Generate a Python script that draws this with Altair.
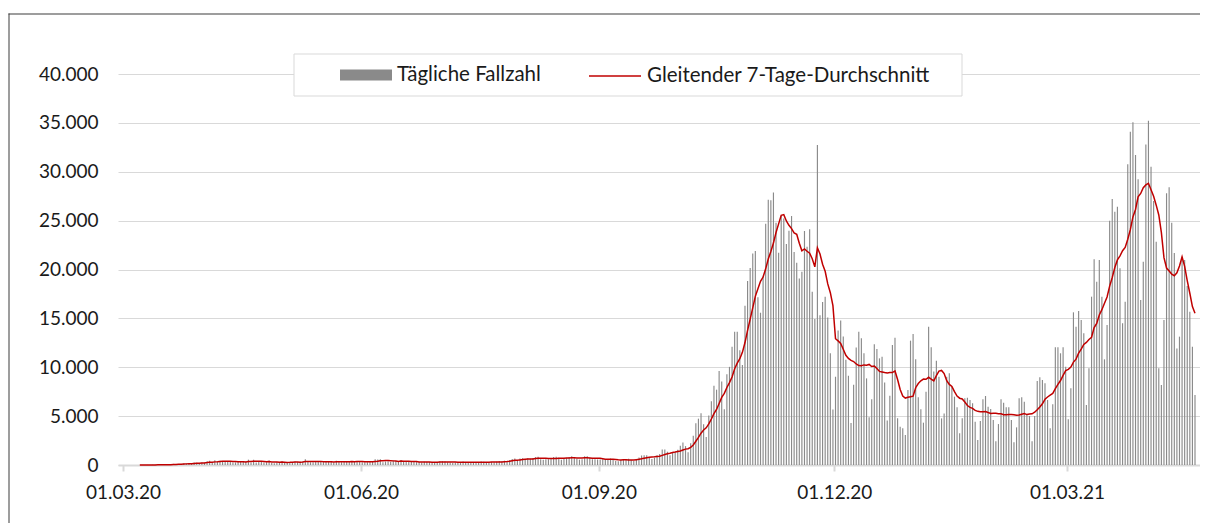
import altair as alt
import pandas as pd

# ---------------- data (daily reported cases, 01.03.2020 - 19.04.2021) ----------------
mar20 = [0, 0, 0, 1, 0, 4, 0, 6, 6, 5, 9, 20, 17, 36, 14, 52, 27, 49, 68, 111,
         111, 98, 115, 152, 150, 170, 168, 249, 224, 193, 256]
apr20 = [243, 392, 437, 244, 475, 311, 435, 370, 380, 401, 318, 260, 268, 380, 336,
         306, 363, 545, 263, 545, 263, 313, 381, 263, 285, 460, 195, 188, 292, 306]
may20 = [381, 230, 276, 218, 307, 356, 307, 330, 349, 595, 345, 285, 279, 388, 321,
         378, 290, 300, 339, 325, 245, 443, 312, 284, 300, 395, 353, 356, 324, 416, 379]
jun20 = [292, 292, 282, 352, 400, 576, 575, 599, 282, 359, 386, 314, 440, 407, 375,
         506, 314, 308, 371, 301, 318, 300, 308, 246, 331, 305, 302, 263, 213, 301]
jul20 = [371, 371, 356, 280, 243, 193, 262, 299, 290, 358, 301, 299, 230, 253, 291,
         260, 358, 334, 286, 252, 305, 281, 337, 418, 358, 443, 337, 512, 615, 657, 443]
aug20 = [658, 680, 512, 680, 640, 726, 809, 843, 599, 548, 599, 587, 639, 811, 832,
         737, 548, 640, 722, 809, 903, 759, 632, 548, 581, 887, 887, 729, 600, 594, 570]
sep20 = [555, 597, 550, 601, 661, 551, 410, 376, 503, 600, 585, 635, 500, 397, 600,
         757, 974, 1002, 1002, 815, 607, 744, 1002, 1136, 1587, 1584, 1350, 1000, 1306, 1326]
oct20 = [1552, 1967, 2292, 1934, 1306, 2236, 3003, 4280, 4739, 5300, 4178, 2855, 5068,
         6526, 8099, 7705, 9622, 8536, 5709, 9291, 10040, 12107, 13632, 13628, 11742,
         10241, 16300, 18820, 20156, 21629, 21897]
nov20 = [17171, 15578, 19364, 24692, 27143, 27086, 27875, 24785, 21713, 25484, 25230,
         22610, 23970, 25470, 21790, 20700, 19080, 19770, 23940, 22330, 24110, 17730,
         14930, 32730, 15310, 16670, 17220, 15100, 11420, 5690]
dec20 = [9030, 13760, 14780, 13150, 10760, 9130, 4290, 8210, 12030, 13640, 12960, 11420,
         8860, 4880, 6720, 12350, 11870, 10910, 11080, 8450, 4540, 7090, 12280, 13030,
         4780, 3920, 3750, 3070, 7670, 12720, 13400]
jan21 = [10810, 6920, 5700, 4330, 7500, 14150, 12040, 9560, 10670, 9040, 4770, 5280,
         9040, 9380, 8010, 6990, 5900, 3240, 4770, 6820, 6890, 6650, 6310, 4430, 2560,
         4500, 6720, 7060, 5970, 5730, 4600]
feb21 = [2420, 4190, 6720, 6380, 5900, 5900, 4600, 2320, 3850, 6820, 6920, 6480, 5120,
         5010, 2420, 5010, 8590, 8970, 8700, 8360, 6650, 3750, 6210, 12040, 12040, 11430,
         12040, 10060]
mar21 = [4670, 7840, 15620, 14150, 15750, 14830, 13470, 6140, 9890, 17220, 21040, 18750,
         20970, 17220, 10810, 14320, 24990, 27210, 25910, 26420, 20120, 14490, 16710,
         30760, 34100, 35060, 31710, 29230, 16880, 20800, 32800]
apr21 = [35220, 30520, 27000, 22840, 9890, 8180, 14830, 27790, 28410, 24790, 21690,
         11930, 13130, 21300, 20970, 18300, 15680, 12100, 7160]

series_names = ["Tägliche Fallzahl", "Gleitender 7-Tage-Durchschnitt"]
tick_days = [0, 92, 184, 275, 365]
tick_labels = ["01.03.20", "01.06.20", "01.09.20", "01.12.20", "01.03.21"]
y_ticks = [0, 5000, 10000, 15000, 20000, 25000, 30000, 35000, 40000]

daily = mar20 + apr20 + may20 + jun20 + jul20 + aug20 + sep20 + oct20 + nov20 + dec20 \
    + jan21 + feb21 + mar21 + apr21
n_days = len(daily)

df = pd.DataFrame({"day": list(range(n_days)), "cases": daily})
df["xc"] = df["day"] + 0.5
df["s1"] = series_names[0]
df["s2"] = series_names[1]

# ---------------- styling ----------------
FONT = "Lato"
TXT = "#1a1a1a"
BAR = "#8a8a8a"
RED = "#c00000"
GRID = "#d9d9d9"
FRAME = "#3c3c3c"
AX_FS = 19
LEG_FS = 20.5
PLOT_W = 1082

x_label_expr = " : ".join(
    f"datum.value == {d} ? '{l}'" for d, l in zip(tick_days, tick_labels)) + " : ''"

x_scale = alt.Scale(domain=[0, n_days - 0.5], nice=False, zero=False)
y_scale = alt.Scale(domain=[0, 40000], nice=False)

x_axis = alt.Axis(values=tick_days, labelExpr=x_label_expr, title=None, grid=False,
                  domain=True, domainColor=GRID, domainWidth=2,
                  ticks=True, tickColor=GRID, tickSize=6, tickWidth=2,
                  labelPadding=12, labelFont=FONT, labelFontSize=AX_FS, labelColor=TXT,
                  labelFlush=False, labelOverlap=False)
y_axis = alt.Axis(values=y_ticks, title=None, grid=True, gridColor=GRID, gridWidth=1,
                  domain=False, ticks=False, labelPadding=20,
                  labelExpr="replace(format(datum.value, ','), ',', '.')",
                  labelFont=FONT, labelFontSize=AX_FS, labelColor=TXT)

base = alt.Chart(df)

bars = base.mark_bar(size=1.15).encode(
    x=alt.X("xc:Q", scale=x_scale, axis=x_axis),
    y=alt.Y("cases:Q", scale=y_scale, axis=y_axis),
    fill=alt.Fill("s1:N", scale=alt.Scale(domain=[series_names[0]], range=[BAR]),
                  legend=alt.Legend(orient="none", legendX=222, legendY=-25, title=None,
                                    symbolType="M-1,-0.21H1V0.21H-1Z", symbolSize=2704,
                                    symbolStrokeWidth=0, labelFont=FONT,
                                    labelFontSize=LEG_FS, labelColor=TXT, labelOffset=5,
                                    labelLimit=600, padding=0)),
)

line = base.transform_window(
    avg="mean(cases)", frame=[-6, 0], sort=[alt.SortField("day")]
).transform_filter("datum.day >= 6").mark_line(strokeWidth=1.5).encode(
    x=alt.X("xc:Q", scale=x_scale, axis=x_axis),
    y=alt.Y("avg:Q", scale=y_scale, axis=y_axis),
    stroke=alt.Stroke("s2:N", scale=alt.Scale(domain=[series_names[1]], range=[RED]),
                      legend=alt.Legend(orient="none", legendX=470, legendY=-25, title=None,
                                        symbolType="stroke", symbolSize=2704,
                                        symbolStrokeWidth=1.5, labelFont=FONT,
                                        labelFontSize=LEG_FS, labelColor=TXT,
                                        labelOffset=5, labelLimit=600, padding=0)),
)

# outer frame of the picture (only its left and top edges fall inside the window)
one = pd.DataFrame({"k": [0]})
frame_left = alt.Chart(one).mark_rect(fill=FRAME, strokeWidth=0).encode(
    x=alt.value(-109.5), x2=alt.value(-108.5), y=alt.value(-60.5), y2=alt.value(449))
frame_top = alt.Chart(one).mark_rect(fill=FRAME, strokeWidth=0).encode(
    x=alt.value(-109.5), x2=alt.value(PLOT_W + 20), y=alt.value(-60.5), y2=alt.value(-59.5))
legend_box = alt.Chart(one).mark_rect(fill="white", stroke=GRID, strokeWidth=1).encode(
    x=alt.value(176), x2=alt.value(844), y=alt.value(-20), y2=alt.value(22))

chart = alt.layer(frame_left, frame_top, bars, line, legend_box).properties(
    width=PLOT_W, height=391,
    autosize=alt.AutoSizeParams(type="none"),
    padding={"left": 110, "top": 66, "right": 0, "bottom": 58},
    background="white",
).configure_view(strokeWidth=0)

chart.save("out.html", embed_options={"renderer": "svg", "actions": False})
